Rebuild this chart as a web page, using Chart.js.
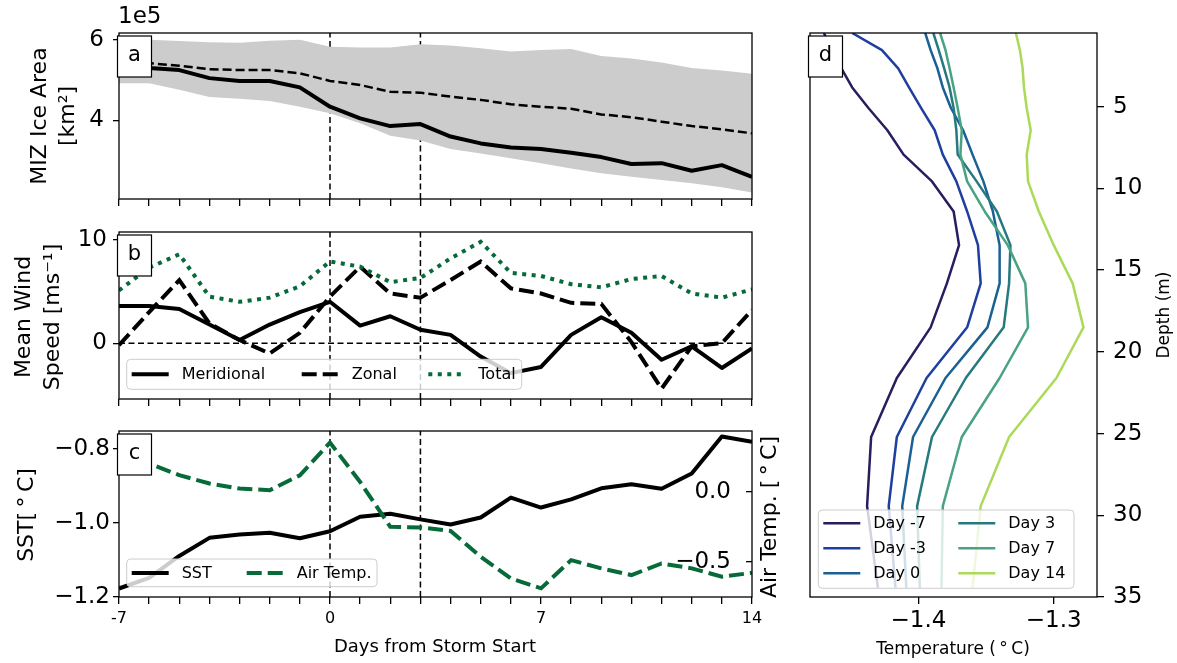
<!DOCTYPE html>
<html>
<head>
<meta charset="utf-8">
<script src="https://cdn.jsdelivr.net/npm/chart.js@4.4.1/dist/chart.umd.min.js"></script>
<style>
  html, body { margin: 0; padding: 0; background: #fff; }
  #fig { position: relative; width: 1177px; height: 663px; }
  #fig canvas { position: absolute; left: 0; top: 0; }
</style>
</head>
<body>
<div id="fig">
  <canvas id="panelA" width="1177" height="663"></canvas>
  <canvas id="panelB" width="1177" height="663"></canvas>
  <canvas id="panelC" width="1177" height="663"></canvas>
  <canvas id="panelD" width="1177" height="663"></canvas>
</div>
<script>
/* =======================
   DATA
======================= */
const days = [-7, -6, -5, -4, -3, -2, -1, 0, 1, 2, 3, 4, 5, 6, 7, 8, 9, 10, 11, 12, 13, 14];
const stormMarks = [0, 3];

// (a) MIZ ice area, units of 1e5 km2
const iceMean   = [5.35, 5.30, 5.25, 5.05, 4.98, 4.98, 4.82, 4.34, 4.05, 3.86, 3.91, 3.60, 3.43, 3.33, 3.29, 3.20, 3.09, 2.92, 2.94, 2.75, 2.89, 2.60];
const iceMedian = [5.48, 5.42, 5.36, 5.27, 5.25, 5.25, 5.17, 4.98, 4.88, 4.71, 4.69, 4.59, 4.51, 4.40, 4.34, 4.29, 4.15, 4.08, 3.97, 3.86, 3.78, 3.68];
const iceUpper  = [6.00, 6.00, 5.97, 5.94, 5.93, 5.98, 6.00, 5.83, 5.81, 5.81, 5.89, 5.86, 5.79, 5.71, 5.75, 5.77, 5.60, 5.54, 5.44, 5.30, 5.24, 5.16];
const iceLower  = [4.92, 4.92, 4.76, 4.58, 4.54, 4.48, 4.34, 4.18, 3.93, 3.62, 3.50, 3.29, 3.18, 3.06, 2.94, 2.81, 2.69, 2.60, 2.52, 2.44, 2.34, 2.21];

// (b) mean wind speed, m/s
const windMeridional = [3.6, 3.6, 3.3, 1.8, 0.3, 1.8, 3.0, 4.0, 1.7, 2.6, 1.3, 0.8, -1.3, -2.9, -2.3, 0.8, 2.5, 1.0, -1.6, -0.3, -2.4, -0.5];
const windZonal      = [-0.2, 3.0, 6.1, 1.9, 0.3, -1.0, 1.0, 4.5, 7.4, 4.8, 4.4, 6.1, 7.9, 5.3, 4.8, 3.9, 3.8, 0.1, -4.4, -0.3, 0.0, 3.2];
const windTotal      = [5.1, 7.3, 8.6, 4.5, 4.0, 4.4, 5.5, 7.9, 7.4, 5.9, 6.3, 8.2, 9.8, 6.8, 6.5, 5.7, 5.4, 6.2, 6.5, 4.8, 4.4, 5.2];

// (c) SST and air temperature, degC
const sst     = [-1.177, -1.148, -1.089, -1.040, -1.031, -1.026, -1.041, -1.022, -0.983, -0.975, -0.990, -1.004, -0.985, -0.931, -0.958, -0.936, -0.906, -0.895, -0.907, -0.866, -0.766, -0.780];
const airTemp = [0.317, 0.203, 0.120, 0.060, 0.024, 0.012, 0.119, 0.353, 0.071, -0.250, -0.254, -0.279, -0.464, -0.619, -0.690, -0.488, -0.547, -0.595, -0.512, -0.547, -0.607, -0.579];

// (d) temperature profiles, degC, against depth (m)
const depth = [0.49, 1.54, 2.65, 3.82, 5.08, 6.44, 7.93, 9.57, 11.41, 13.47, 15.81, 18.50, 21.60, 25.21, 29.44, 34.43];
const profileDays = ['Day -7', 'Day -3', 'Day 0', 'Day 3', 'Day 7', 'Day 14'];
const tempDayM7 = [-1.470, -1.463, -1.457, -1.449, -1.437, -1.423, -1.411, -1.390, -1.374, -1.370, -1.379, -1.391, -1.416, -1.435, -1.438, -1.430];
const tempDayM3 = [-1.449, -1.427, -1.415, -1.407, -1.398, -1.388, -1.382, -1.372, -1.364, -1.356, -1.354, -1.364, -1.394, -1.416, -1.422, -1.417];
const tempDay0  = [-1.395, -1.391, -1.386, -1.382, -1.376, -1.367, -1.360, -1.352, -1.345, -1.340, -1.340, -1.349, -1.380, -1.404, -1.412, -1.409];
const tempDay3  = [-1.389, -1.385, -1.381, -1.377, -1.374, -1.372, -1.371, -1.357, -1.342, -1.332, -1.333, -1.337, -1.365, -1.390, -1.401, -1.399];
const tempDay7  = [-1.384, -1.380, -1.377, -1.374, -1.371, -1.368, -1.369, -1.364, -1.351, -1.334, -1.321, -1.319, -1.340, -1.368, -1.382, -1.383];
const tempDay14 = [-1.328, -1.325, -1.323, -1.322, -1.320, -1.317, -1.320, -1.319, -1.311, -1.300, -1.286, -1.278, -1.298, -1.333, -1.354, -1.360];
const profiles = [tempDayM7, tempDayM3, tempDay0, tempDay3, tempDay7, tempDay14];

/* =======================
   STYLE / LAYOUT
======================= */
const FONT = "'DejaVu Sans', sans-serif";
const W = 1177, H = 663;
const GREEN = '#066a39';
const TICK = 23;
const profileColors = ['#2b1b5f', '#1f3f9e', '#1b6094', '#26797f', '#48a283', '#abda58'];

const areaA = { l: 119, t: 33, r: 752, b: 199 };
const areaB = { l: 119, t: 232, r: 752, b: 399 };
const areaC = { l: 119, t: 431, r: 752, b: 597 };
const areaD = { l: 810, t: 33, r: 1097, b: 597 };

const pts = (xs, ys) => xs.map((x, i) => ({ x: x, y: ys[i] }));
const minus = v => (v < 0 ? '\u2212' : '') + Math.abs(v).toFixed(1);

// padding so the chart area lands on the wanted box
const pad = (area, left, right, bottom) => ({
    autoPadding: false,
    padding: { left: area.l - left, top: area.t, right: W - area.r - right, bottom: H - area.b - bottom }
});

const xDays = (labels) => ({
    type: 'linear', min: -7, max: 14,
    afterBuildTicks: s => { s.ticks = days.map(v => ({ value: v })); },
    afterFit: s => { s.height = labels ? 40 : 10; },
    grid: { drawOnChartArea: false, tickLength: 7, color: '#000', lineWidth: 1.3 },
    border: { display: false },
    ticks: {
        display: labels, autoSkip: false, maxRotation: 0, padding: 5, color: '#000',
        font: { family: FONT, size: 16 },
        callback: v => (v % 7 === 0 ? String(v) : '')
    }
});

const yLeft = (min, max, tickVals, padding, fmt) => ({
    type: 'linear', position: 'left', min: min, max: max,
    afterBuildTicks: s => { s.ticks = tickVals.map(v => ({ value: v })); },
    afterFit: s => { s.width = 119; },
    grid: { drawOnChartArea: false, tickLength: 6, color: '#000', lineWidth: 1.3 },
    border: { display: false },
    ticks: { padding: padding, color: '#000', font: { family: FONT, size: TICK }, callback: fmt }
});

const refLine = (x0, y0, x1, y1) => ({
    data: [{ x: x0, y: y0 }, { x: x1, y: y1 }],
    borderColor: '#000', borderWidth: 1.5, borderDash: [6, 3.5],
    pointRadius: 0, order: 10
});

/* =======================
   DECOR PLUGIN (frame, panel letter, legend, extra titles)
======================= */
const decor = {
    id: 'decor',
    afterDatasetsDraw(chart, args, o) {
        const ctx = chart.ctx;
        const a = chart.chartArea;
        ctx.save();

        ctx.strokeStyle = '#000';
        ctx.lineWidth = 1.3;
        ctx.setLineDash([]);
        ctx.strokeRect(a.left, a.top, a.right - a.left, a.bottom - a.top);

        if (o.legend) {
            const lg = o.legend;
            ctx.beginPath();
            ctx.roundRect(lg.x, lg.y, lg.w, lg.h, 4);
            ctx.fillStyle = 'rgba(255,255,255,0.8)';
            ctx.fill();
            ctx.strokeStyle = '#cccccc';
            ctx.lineWidth = 1;
            ctx.stroke();

            lg.items.forEach(it => {
                const ds = chart.data.datasets.find(d => d.label === it.label);
                ctx.beginPath();
                ctx.setLineDash(ds.borderDash || []);
                ctx.strokeStyle = ds.borderColor;
                ctx.lineWidth = ds.borderWidth;
                ctx.moveTo(it.x, it.y);
                ctx.lineTo(it.x + 37, it.y);
                ctx.stroke();
                ctx.setLineDash([]);
                ctx.fillStyle = '#000';
                ctx.font = lg.size + 'px ' + FONT;
                ctx.textAlign = 'left';
                ctx.textBaseline = 'middle';
                ctx.fillText(it.label, it.x + 50, it.y + 1);
            });
        }

        if (o.letter) {
            const bx = a.left - 1.5, by = a.top + 3;
            ctx.fillStyle = '#fff';
            ctx.fillRect(bx, by, 34, 41);
            ctx.strokeStyle = '#000';
            ctx.lineWidth = 1.2;
            ctx.strokeRect(bx, by, 34, 41);
            ctx.fillStyle = '#000';
            ctx.font = '21px ' + FONT;
            ctx.textAlign = 'center';
            ctx.textBaseline = 'middle';
            ctx.fillText(o.letter, bx + 17, by + 20);
        }

        (o.texts || []).forEach(t => {
            ctx.save();
            ctx.translate(t.x, t.y);
            ctx.rotate(t.rot || 0);
            ctx.fillStyle = '#000';
            ctx.font = t.size + 'px ' + FONT;
            ctx.textAlign = t.align || 'center';
            ctx.textBaseline = 'middle';
            ctx.fillText(t.text, 0, 0);
            ctx.restore();
        });

        ctx.restore();
    }
};

const UP = -Math.PI / 2;
const common = { responsive: false, animation: false, events: [] };
const noLegend = { legend: { display: false }, tooltip: { enabled: false } };

/* =======================
   PANEL A
======================= */
const aMin = 2.05, aMax = 6.17;
new Chart(document.getElementById('panelA'), {
    type: 'line',
    data: {
        datasets: [
            refLine(stormMarks[0], aMin, stormMarks[0], aMax),
            refLine(stormMarks[1], aMin, stormMarks[1], aMax),
            { label: 'mean', data: pts(days, iceMean), borderColor: '#000', borderWidth: 4, pointRadius: 0, borderJoinStyle: 'round', order: 2 },
            { label: 'median', data: pts(days, iceMedian), borderColor: '#000', borderWidth: 2.5, borderDash: [9, 4], pointRadius: 0, order: 1 },
            { label: 'upper', data: pts(days, iceUpper), borderWidth: 0, pointRadius: 0, fill: '+1', backgroundColor: '#cccccc', order: 5 },
            { label: 'lower', data: pts(days, iceLower), borderWidth: 0, pointRadius: 0, order: 6 }
        ]
    },
    options: Object.assign({}, common, {
        layout: pad(areaA, 119, 0, 10),
        scales: { x: xDays(false), y: yLeft(aMin, aMax, [4, 6], 9, v => String(v)) },
        plugins: Object.assign({}, noLegend, {
            decor: {
                letter: 'a',
                texts: [
                    { text: '1e5', x: 118, y: 17, size: 23, align: 'left' },
                    { text: 'MIZ Ice Area', x: 40, y: 116, size: 22, rot: UP },
                    { text: '[km\u00b2]', x: 68, y: 116, size: 22, rot: UP }
                ]
            }
        })
    }),
    plugins: [decor]
});

/* =======================
   PANEL B
======================= */
const bMin = -5.4, bMax = 10.75;
new Chart(document.getElementById('panelB'), {
    type: 'line',
    data: {
        datasets: [
            refLine(stormMarks[0], bMin, stormMarks[0], bMax),
            refLine(stormMarks[1], bMin, stormMarks[1], bMax),
            refLine(-7, 0, 14, 0),
            { label: 'Meridional', data: pts(days, windMeridional), borderColor: '#000', borderWidth: 4, pointRadius: 0, borderJoinStyle: 'round', order: 3 },
            { label: 'Zonal', data: pts(days, windZonal), borderColor: '#000', borderWidth: 4, borderDash: [15, 6], pointRadius: 0, order: 2 },
            { label: 'Total', data: pts(days, windTotal), borderColor: GREEN, borderWidth: 4, borderDash: [4, 5.5], pointRadius: 0, order: 1 }
        ]
    },
    options: Object.assign({}, common, {
        layout: pad(areaB, 119, 0, 10),
        scales: { x: xDays(false), y: yLeft(bMin, bMax, [0, 10], 6, v => String(v)) },
        plugins: Object.assign({}, noLegend, {
            decor: {
                letter: 'b',
                legend: {
                    x: 126.7, y: 359.3, w: 395, h: 30, size: 16,
                    items: [
                        { label: 'Meridional', x: 131.7, y: 374.3 },
                        { label: 'Zonal', x: 301.7, y: 374.3 },
                        { label: 'Total', x: 428.3, y: 374.3 }
                    ]
                },
                texts: [
                    { text: 'Mean Wind', x: 24, y: 317, size: 22, rot: UP },
                    { text: 'Speed [ms\u207b\u00b9]', x: 53, y: 317, size: 22, rot: UP }
                ]
            }
        })
    }),
    plugins: [decor]
});

/* =======================
   PANEL C
======================= */
const cMin = -1.2, cMax = -0.751;
new Chart(document.getElementById('panelC'), {
    type: 'line',
    data: {
        datasets: [
            refLine(stormMarks[0], cMin, stormMarks[0], cMax),
            refLine(stormMarks[1], cMin, stormMarks[1], cMax),
            { label: 'SST', data: pts(days, sst), borderColor: '#000', borderWidth: 4, pointRadius: 0, borderJoinStyle: 'round', order: 2 },
            { label: 'Air Temp.', data: pts(days, airTemp), yAxisID: 'y2', borderColor: GREEN, borderWidth: 4, borderDash: [15, 6], pointRadius: 0, order: 1 }
        ]
    },
    options: Object.assign({}, common, {
        layout: pad(areaC, 119, 30, 40),
        scales: {
            x: xDays(true),
            y: yLeft(cMin, cMax, [-1.2, -1.0, -0.8], 3, minus),
            y2: {
                type: 'linear', position: 'right', min: -0.752, max: 0.436,
                afterBuildTicks: s => { s.ticks = [-0.5, 0].map(v => ({ value: v })); },
                afterFit: s => { s.width = 30; },
                grid: { drawOnChartArea: false, tickLength: -6, color: '#000', lineWidth: 1.3 },
                border: { display: false },
                ticks: { mirror: true, padding: -21, color: '#000', font: { family: FONT, size: TICK }, callback: minus }
            }
        },
        plugins: Object.assign({}, noLegend, {
            decor: {
                letter: 'c',
                legend: {
                    x: 126.7, y: 559, w: 250.3, h: 27.7, size: 16,
                    items: [
                        { label: 'SST', x: 131.7, y: 573 },
                        { label: 'Air Temp.', x: 246.7, y: 573 }
                    ]
                },
                texts: [
                    { text: 'SST[\u2009\u00b0\u2009C]', x: 27, y: 515, size: 22, rot: UP },
                    { text: 'Air Temp. [\u2009\u00b0\u2009C]', x: 770, y: 517, size: 22, rot: UP },
                    { text: 'Days from Storm Start', x: 435, y: 647, size: 18 }
                ]
            }
        })
    }),
    plugins: [decor]
});

/* =======================
   PANEL D
======================= */
new Chart(document.getElementById('panelD'), {
    type: 'scatter',
    data: {
        datasets: profiles.map((temps, i) => ({
            label: profileDays[i],
            data: pts(temps, depth),
            showLine: true,
            borderColor: profileColors[i],
            borderWidth: 2.5,
            borderJoinStyle: 'round',
            pointRadius: 0,
            order: profiles.length - i
        }))
    },
    options: Object.assign({}, common, {
        layout: pad(areaD, 0, 60, 30),
        scales: {
            x: {
                type: 'linear', min: -1.4802, max: -1.268,
                afterBuildTicks: s => { s.ticks = [-1.4, -1.3].map(v => ({ value: v })); },
                afterFit: s => { s.height = 30; },
                grid: { drawOnChartArea: false, tickLength: 7, color: '#000', lineWidth: 1.3 },
                border: { display: false },
                ticks: { padding: 3, color: '#000', font: { family: FONT, size: TICK }, callback: minus }
            },
            y: {
                type: 'linear', position: 'right', reverse: true, min: 0.49, max: 35,
                afterBuildTicks: s => { s.ticks = [5, 10, 15, 20, 25, 30, 35].map(v => ({ value: v })); },
                afterFit: s => { s.width = 60; },
                grid: { drawOnChartArea: false, tickLength: 7, color: '#000', lineWidth: 1.3 },
                border: { display: false },
                ticks: { padding: 9, color: '#000', font: { family: FONT, size: TICK }, callback: v => String(v) }
            }
        },
        plugins: Object.assign({}, noLegend, {
            decor: {
                letter: 'd',
                legend: {
                    x: 818.3, y: 510, w: 255.7, h: 78.3, size: 16,
                    items: [
                        { label: 'Day -7', x: 823.3, y: 523.3 },
                        { label: 'Day -3', x: 823.3, y: 548.3 },
                        { label: 'Day 0', x: 823.3, y: 573.3 },
                        { label: 'Day 3', x: 958.3, y: 523.3 },
                        { label: 'Day 7', x: 958.3, y: 548.3 },
                        { label: 'Day 14', x: 958.3, y: 573.3 }
                    ]
                },
                texts: [
                    { text: 'Depth (m)', x: 1165, y: 315, size: 17, rot: UP },
                    { text: 'Temperature (\u2009\u00b0\u2009C)', x: 953, y: 650, size: 17 }
                ]
            }
        })
    }),
    plugins: [decor]
});
</script>
</body>
</html>
